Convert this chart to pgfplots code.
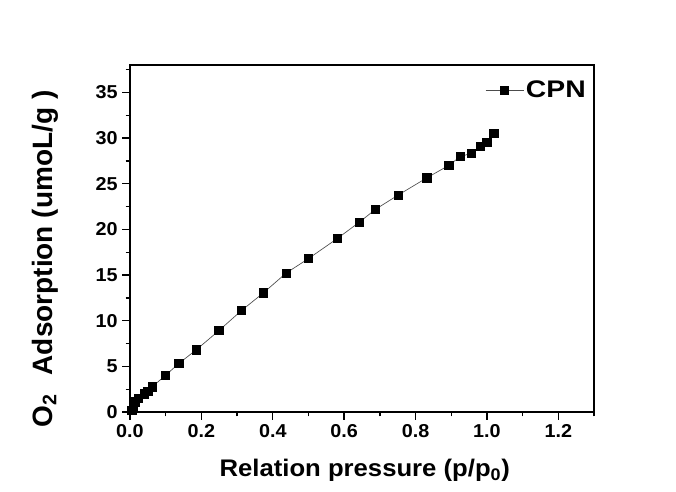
\documentclass[border=0pt]{standalone}
\usepackage{pgfplots}
\pgfplotsset{compat=1.18}
\usepackage{graphicx}
\usepackage{fontspec}
\setmainfont{Liberation Sans}
% slightly widened faces for ticks, x label and legend
\newfontfamily\tickfont[FakeStretch=1.06]{Liberation Sans}
\newfontfamily\xlabfont[FakeStretch=1.07]{Liberation Sans}
\newfontfamily\legfont[FakeStretch=1.18]{Liberation Sans}

% O2 adsorption isotherm of CPN
\pgfplotstableread{
x      y
0.005  0.20
0.010  0.60
0.015  1.10
0.023  1.47
0.040  2.00
0.050  2.30
0.062  2.75
0.100  4.03
0.137  5.32
0.186  6.82
0.249  8.91
0.312  11.10
0.374  13.05
0.437  15.20
0.500  16.80
0.581  19.00
0.643  20.80
0.688  22.20
0.751  23.75
0.832  25.65
0.893  27.00
0.925  27.96
0.956  28.33
0.981  29.06
1.000  29.50
1.019  30.50
}\cpn

\begin{document}
\begin{tikzpicture}
\begin{axis}[
  scale only axis,
  width=348pt, height=260.25pt,
  xmin=0, xmax=1.3, ymin=0, ymax=38,
  xtick={0,0.2,...,1.2},
  ytick={0,5,...,35},
  minor xtick={0.1,0.3,...,1.3},
  minor ytick={2.5,7.5,...,37.5},
  tick pos=left,
  tick align=outside,
  major tick length=5.7pt,
  minor tick length=3.2pt,
  every tick/.style={black, line width=1pt},
  axis line style={line width=1.2pt},
  /pgf/number format/assume math mode=true,
  /pgf/number format/fixed,
  /pgf/number format/fixed zerofill,
  xticklabel style={/pgf/number format/precision=1},
  yticklabel style={/pgf/number format/precision=0},
  ticklabel style={font=\tickfont\bfseries\fontsize{14}{16}\selectfont},
  xlabel={\xlabfont\bfseries\fontsize{18}{20}\selectfont Relation pressure (p/p\textsubscript{0})},
  xlabel style={at={(axis description cs:0.506,-0.187)}, anchor=base},
  ylabel={\bfseries\fontsize{21}{24}\selectfont O\textsubscript{2}\hspace{14pt}Adsorption (umoL/g )},
  ylabel style={at={(axis description cs:-0.183,0.441)}, anchor=center, rotate=0},
  legend style={at={(0.987,0.928)}, anchor=east, draw=none, fill=none,
    inner sep=0pt, nodes={inner sep=1.5pt},
    font=\legfont\bfseries\fontsize{18}{20}\selectfont},
  legend image code/.code={%
    \draw[mark repeat=2, mark phase=2, #1]
      plot coordinates {(0cm,0cm) (0.5cm,0cm) (1cm,0cm)};},
]
\addplot[gray!60!black, line width=0.5pt, mark=square*,
  mark size=3.1pt, mark options={black, fill=black}] table[x=x, y=y] {\cpn};
\addlegendentry{CPN}
\end{axis}
\path (current axis.south west) ++(-97.5pt,-59.25pt) coordinate (bbl);
\path (current axis.north east) ++(61.5pt,48.75pt) coordinate (btr);
\path (bbl) rectangle (btr);
\end{tikzpicture}
\end{document}
